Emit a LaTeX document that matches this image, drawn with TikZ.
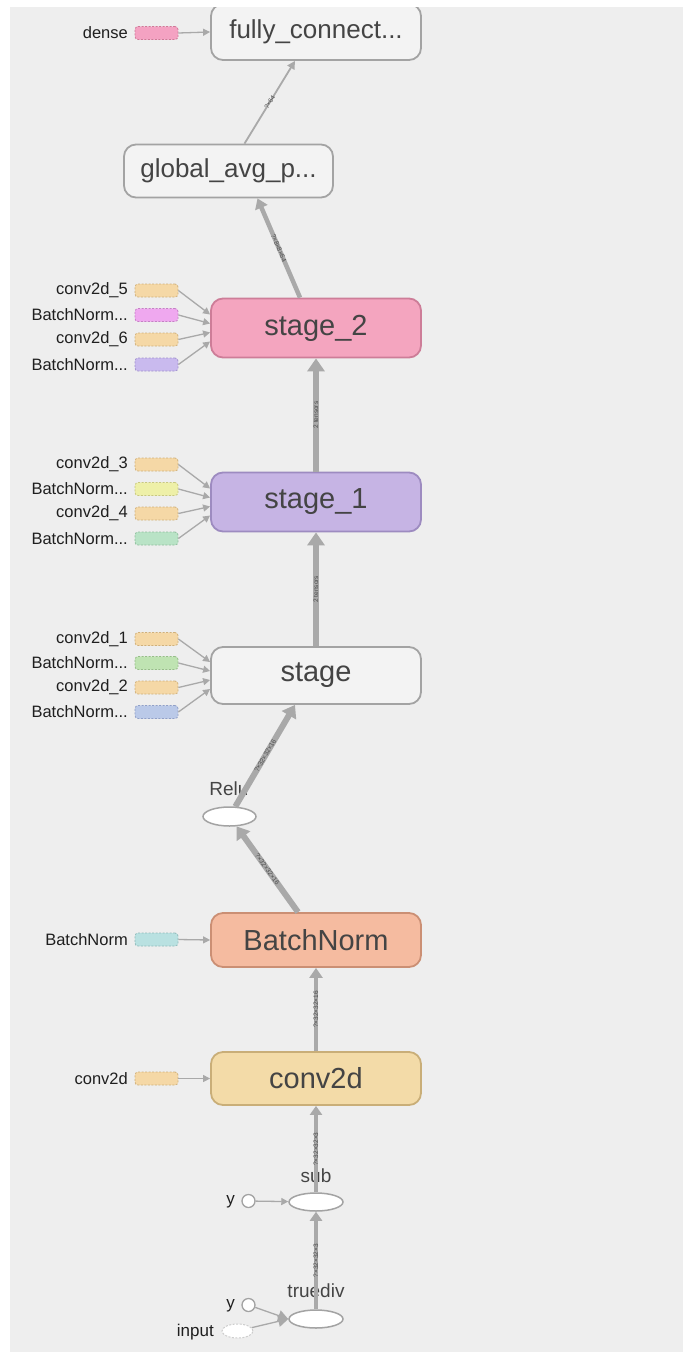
\documentclass[tikz,border=0pt]{standalone}
\usepackage{fontspec}
\setmainfont{Liberation Sans}
\usetikzlibrary{arrows.meta,shapes.geometric}

% palette
\definecolor{bgc}{HTML}{EEEEEE}
\definecolor{edgec}{HTML}{A9A9A9}
\definecolor{boxline}{HTML}{A3A3A3}
\definecolor{plainfill}{HTML}{F3F3F3}
\definecolor{stagetwofill}{HTML}{F4A5BF}
\definecolor{stagetwoline}{HTML}{CD7D98}
\definecolor{stageonefill}{HTML}{C6B4E4}
\definecolor{stageoneline}{HTML}{9D8BC0}
\definecolor{bnfill}{HTML}{F5BBA0}
\definecolor{bnline}{HTML}{CB8F74}
\definecolor{convfill}{HTML}{F3DBA8}
\definecolor{convline}{HTML}{C9AE78}
\definecolor{convin}{HTML}{F5D8A6}
\definecolor{convinl}{HTML}{D0B07A}
\definecolor{bnA}{HTML}{EFA8EF}
\definecolor{bnAl}{HTML}{C680C6}
\definecolor{bnB}{HTML}{C9BAEE}
\definecolor{bnBl}{HTML}{A090CC}
\definecolor{bnC}{HTML}{EEF0A8}
\definecolor{bnCl}{HTML}{C8C880}
\definecolor{bnD}{HTML}{B9E3C6}
\definecolor{bnDl}{HTML}{8FBE9E}
\definecolor{bnE}{HTML}{BFE3B2}
\definecolor{bnEl}{HTML}{96BE88}
\definecolor{bnF}{HTML}{BAC9E8}
\definecolor{bnFl}{HTML}{90A0C8}
\definecolor{bnG}{HTML}{B9E1E1}
\definecolor{bnGl}{HTML}{8FBABA}
\definecolor{densec}{HTML}{F4A2C2}
\definecolor{densel}{HTML}{D07898}
\definecolor{txt}{HTML}{444444}

\tikzset{
  opbox/.style={rounded corners=12pt, minimum width=210pt, minimum height=55pt,
    line width=1.8pt, inner sep=0pt, text=txt, font=\fontsize{29}{29}\selectfont},
  inbox/.style={rounded corners=3pt, minimum width=43pt, minimum height=13pt,
    inner sep=0pt, dash pattern=on 2pt off 1.5pt, line width=0.8pt},
  inlabel/.style={font=\fontsize{16.5}{16.5}\selectfont, anchor=east, inner sep=0pt, text=black!88},
  opellipse/.style={ellipse, draw=boxline, fill=white, line width=1.5pt,
    minimum width=53pt, minimum height=19pt, inner sep=0pt},
  oplabel/.style={font=\fontsize{19}{19}\selectfont, text=txt, inner sep=0pt},
  constnode/.style={circle, draw=boxline, fill=white, line width=1.3pt,
    minimum size=13pt, inner sep=0pt},
  heavyedge/.style={draw=edgec, line width=6.5pt, -{Triangle[length=13pt,width=17pt]}},
  reluedge/.style={draw=edgec, line width=6pt, -{Triangle[length=12pt,width=16pt]}},
  midedge/.style={draw=edgec, line width=4.5pt, -{Triangle[length=10pt,width=13pt]}},
  slimedge/.style={draw=edgec, line width=4pt, -{Triangle[length=9pt,width=12pt]}},
  thinedge/.style={draw=edgec, line width=1.3pt, -{Triangle[length=7pt,width=7pt]}},
  shapelabel/.style={font=\fontsize{6.5}{6.5}\selectfont, text=black!70, sloped, inner sep=0.5pt},
}

\begin{document}
\begin{tikzpicture}[x=1pt,y=-1pt]
  % canvas
  \fill[white] (0,0) rectangle (683,1352);
  \fill[bgc] (10,7) rectangle (683,1352);
  \useasboundingbox (0,0) rectangle (683,1352);

  % top op, partly scrolled out of view
  \begin{scope}
    \clip (10,7) rectangle (683,1352);
    \node[opbox, draw=boxline, fill=plainfill, minimum height=56pt,
      font=\fontsize{26}{26}\selectfont] (fc) at (316,32) {fully\_connect...};
  \end{scope}

  % main ops
  \node[opbox, draw=boxline, fill=plainfill, minimum width=209pt, minimum height=53pt,
    font=\fontsize{26}{26}\selectfont] (gap) at (228.5,171) {global\_avg\_p...};
  \node[opbox, draw=stagetwoline, fill=stagetwofill, minimum height=59pt] (stage2) at (316,328) {stage\_2};
  \node[opbox, draw=stageoneline, fill=stageonefill, minimum height=59pt] (stage1) at (316,502) {stage\_1};
  \node[opbox, draw=boxline, fill=plainfill, minimum height=57pt] (stage) at (316,675.5) {stage};
  \node[opellipse] (relu) at (229.5,816.5) {};
  \node[oplabel] (relulbl) at (229,789) {Relu};
  \node[opbox, draw=bnline, fill=bnfill, minimum height=54pt] (bn) at (316,940) {BatchNorm};
  \node[opbox, draw=convline, fill=convfill, minimum height=53pt] (conv) at (316,1078.5) {conv2d};
  \node[opellipse, minimum width=54pt, minimum height=18pt] (sub) at (316,1202) {};
  \node[oplabel] (sublbl) at (316,1176) {sub};
  \node[opellipse, minimum width=54pt, minimum height=18pt] (div) at (316,1319) {};
  \node[oplabel] (divlbl) at (316,1291) {truediv};

  % dense input
  \node[inbox, draw=densel, fill=densec] (dense) at (156.5,33) {};
  \node[inlabel] (densel) at (128,33) {dense};
  \draw[thinedge] (dense.east) -- (fc.west);

  % stage_2 inputs
  \node[inbox, draw=convinl, fill=convin] (c5) at (156.5,290.5) {};
  \node[inbox, draw=bnAl, fill=bnA] (b5) at (156.5,315) {};
  \node[inbox, draw=convinl, fill=convin] (c6) at (156.5,339.5) {};
  \node[inbox, draw=bnBl, fill=bnB] (b6) at (156.5,364.5) {};
  \node[inlabel] at (128,290.5) {conv2d\_5};
  \node[inlabel] at (128,315) {BatchNorm...};
  \node[inlabel] at (128,339.5) {conv2d\_6};
  \node[inlabel] at (128,364.5) {BatchNorm...};
  \draw[thinedge] (c5.east) -- ([yshift=13.5pt]stage2.west);
  \draw[thinedge] (b5.east) -- ([yshift=4.5pt]stage2.west);
  \draw[thinedge] (c6.east) -- ([yshift=-4.5pt]stage2.west);
  \draw[thinedge] (b6.east) -- ([yshift=-13.5pt]stage2.west);

  % stage_1 inputs
  \node[inbox, draw=convinl, fill=convin] (c3) at (156.5,464.5) {};
  \node[inbox, draw=bnCl, fill=bnC] (b3) at (156.5,489) {};
  \node[inbox, draw=convinl, fill=convin] (c4) at (156.5,513.5) {};
  \node[inbox, draw=bnDl, fill=bnD] (b4) at (156.5,538.5) {};
  \node[inlabel] at (128,464.5) {conv2d\_3};
  \node[inlabel] at (128,489) {BatchNorm...};
  \node[inlabel] at (128,513.5) {conv2d\_4};
  \node[inlabel] at (128,538.5) {BatchNorm...};
  \draw[thinedge] (c3.east) -- ([yshift=13.5pt]stage1.west);
  \draw[thinedge] (b3.east) -- ([yshift=4.5pt]stage1.west);
  \draw[thinedge] (c4.east) -- ([yshift=-4.5pt]stage1.west);
  \draw[thinedge] (b4.east) -- ([yshift=-13.5pt]stage1.west);

  % stage inputs
  \node[inbox, draw=convinl, fill=convin] (c1) at (156.5,639) {};
  \node[inbox, draw=bnEl, fill=bnE] (b1) at (156.5,663) {};
  \node[inbox, draw=convinl, fill=convin] (c2) at (156.5,687.5) {};
  \node[inbox, draw=bnFl, fill=bnF] (b2) at (156.5,712) {};
  \node[inlabel] at (128,639) {conv2d\_1};
  \node[inlabel] at (128,663) {BatchNorm...};
  \node[inlabel] at (128,687.5) {conv2d\_2};
  \node[inlabel] at (128,712) {BatchNorm...};
  \draw[thinedge] (c1.east) -- ([yshift=13.5pt]stage.west);
  \draw[thinedge] (b1.east) -- ([yshift=4.5pt]stage.west);
  \draw[thinedge] (c2.east) -- ([yshift=-4.5pt]stage.west);
  \draw[thinedge] (b2.east) -- ([yshift=-13.5pt]stage.west);

  % BatchNorm and conv2d inputs
  \node[inbox, draw=bnGl, fill=bnG] (bnin) at (156.5,939.5) {};
  \node[inlabel] at (128,939.5) {BatchNorm};
  \draw[thinedge] (bnin.east) -- (bn.west);
  \node[inbox, draw=convinl, fill=convin] (convin) at (156.5,1078.5) {};
  \node[inlabel] at (128,1078.5) {conv2d};
  \draw[thinedge] (convin.east) -- (conv.west);

  % constants and input
  \node[constnode] (y1) at (248.5,1201) {};
  \node[inlabel, font=\fontsize{17}{17}\selectfont] at (235,1202) {y};
  \node[constnode] (y2) at (248.5,1305) {};
  \node[inlabel, font=\fontsize{17}{17}\selectfont] at (235,1306) {y};
  \node[ellipse, draw=black!20, fill=white, dash pattern=on 2pt off 1.5pt, line width=1pt,
    minimum width=31pt, minimum height=14pt, inner sep=0pt] (inp) at (237.5,1331) {};
  \node[inlabel, font=\fontsize{17}{17}\selectfont] at (214,1332) {input};
  \draw[thinedge] (y1) -- (sub);
  \draw[thinedge, -{Triangle[length=10pt,width=11pt]}] (y2) -- (div.west);
  \draw[thinedge, -{Triangle[length=10pt,width=11pt]}] (inp) -- (div.west);

  % data flow
  \draw[slimedge] (div) -- node[shapelabel] {?×32×32×3} (sub);
  \draw[slimedge] (sub) -- node[shapelabel] {?×32×32×3} (conv.south);
  \draw[midedge] (conv.north) -- node[shapelabel] {?×32×32×16} (bn.south);
  \draw[reluedge] ([xshift=-18pt]bn.north) -- node[shapelabel] {?×32×32×16} (relu);
  \draw[reluedge] (relu) -- node[shapelabel] {?×32×32×16} ([xshift=-21pt]stage.south);
  \draw[heavyedge] (stage.north) -- node[shapelabel] {2 tensors} (stage1.south);
  \draw[heavyedge] (stage1.north) -- node[shapelabel] {2 tensors} (stage2.south);
  \draw[midedge] ([xshift=-16pt]stage2.north) -- node[shapelabel] {?×8×8×64} ([xshift=29pt]gap.south);
  \draw[thinedge, line width=1.8pt, -{Triangle[length=8pt,width=8pt]}] ([xshift=16pt]gap.north)
    -- node[shapelabel] {?×64} ([xshift=-21pt]fc.south);
\end{tikzpicture}
\end{document}
